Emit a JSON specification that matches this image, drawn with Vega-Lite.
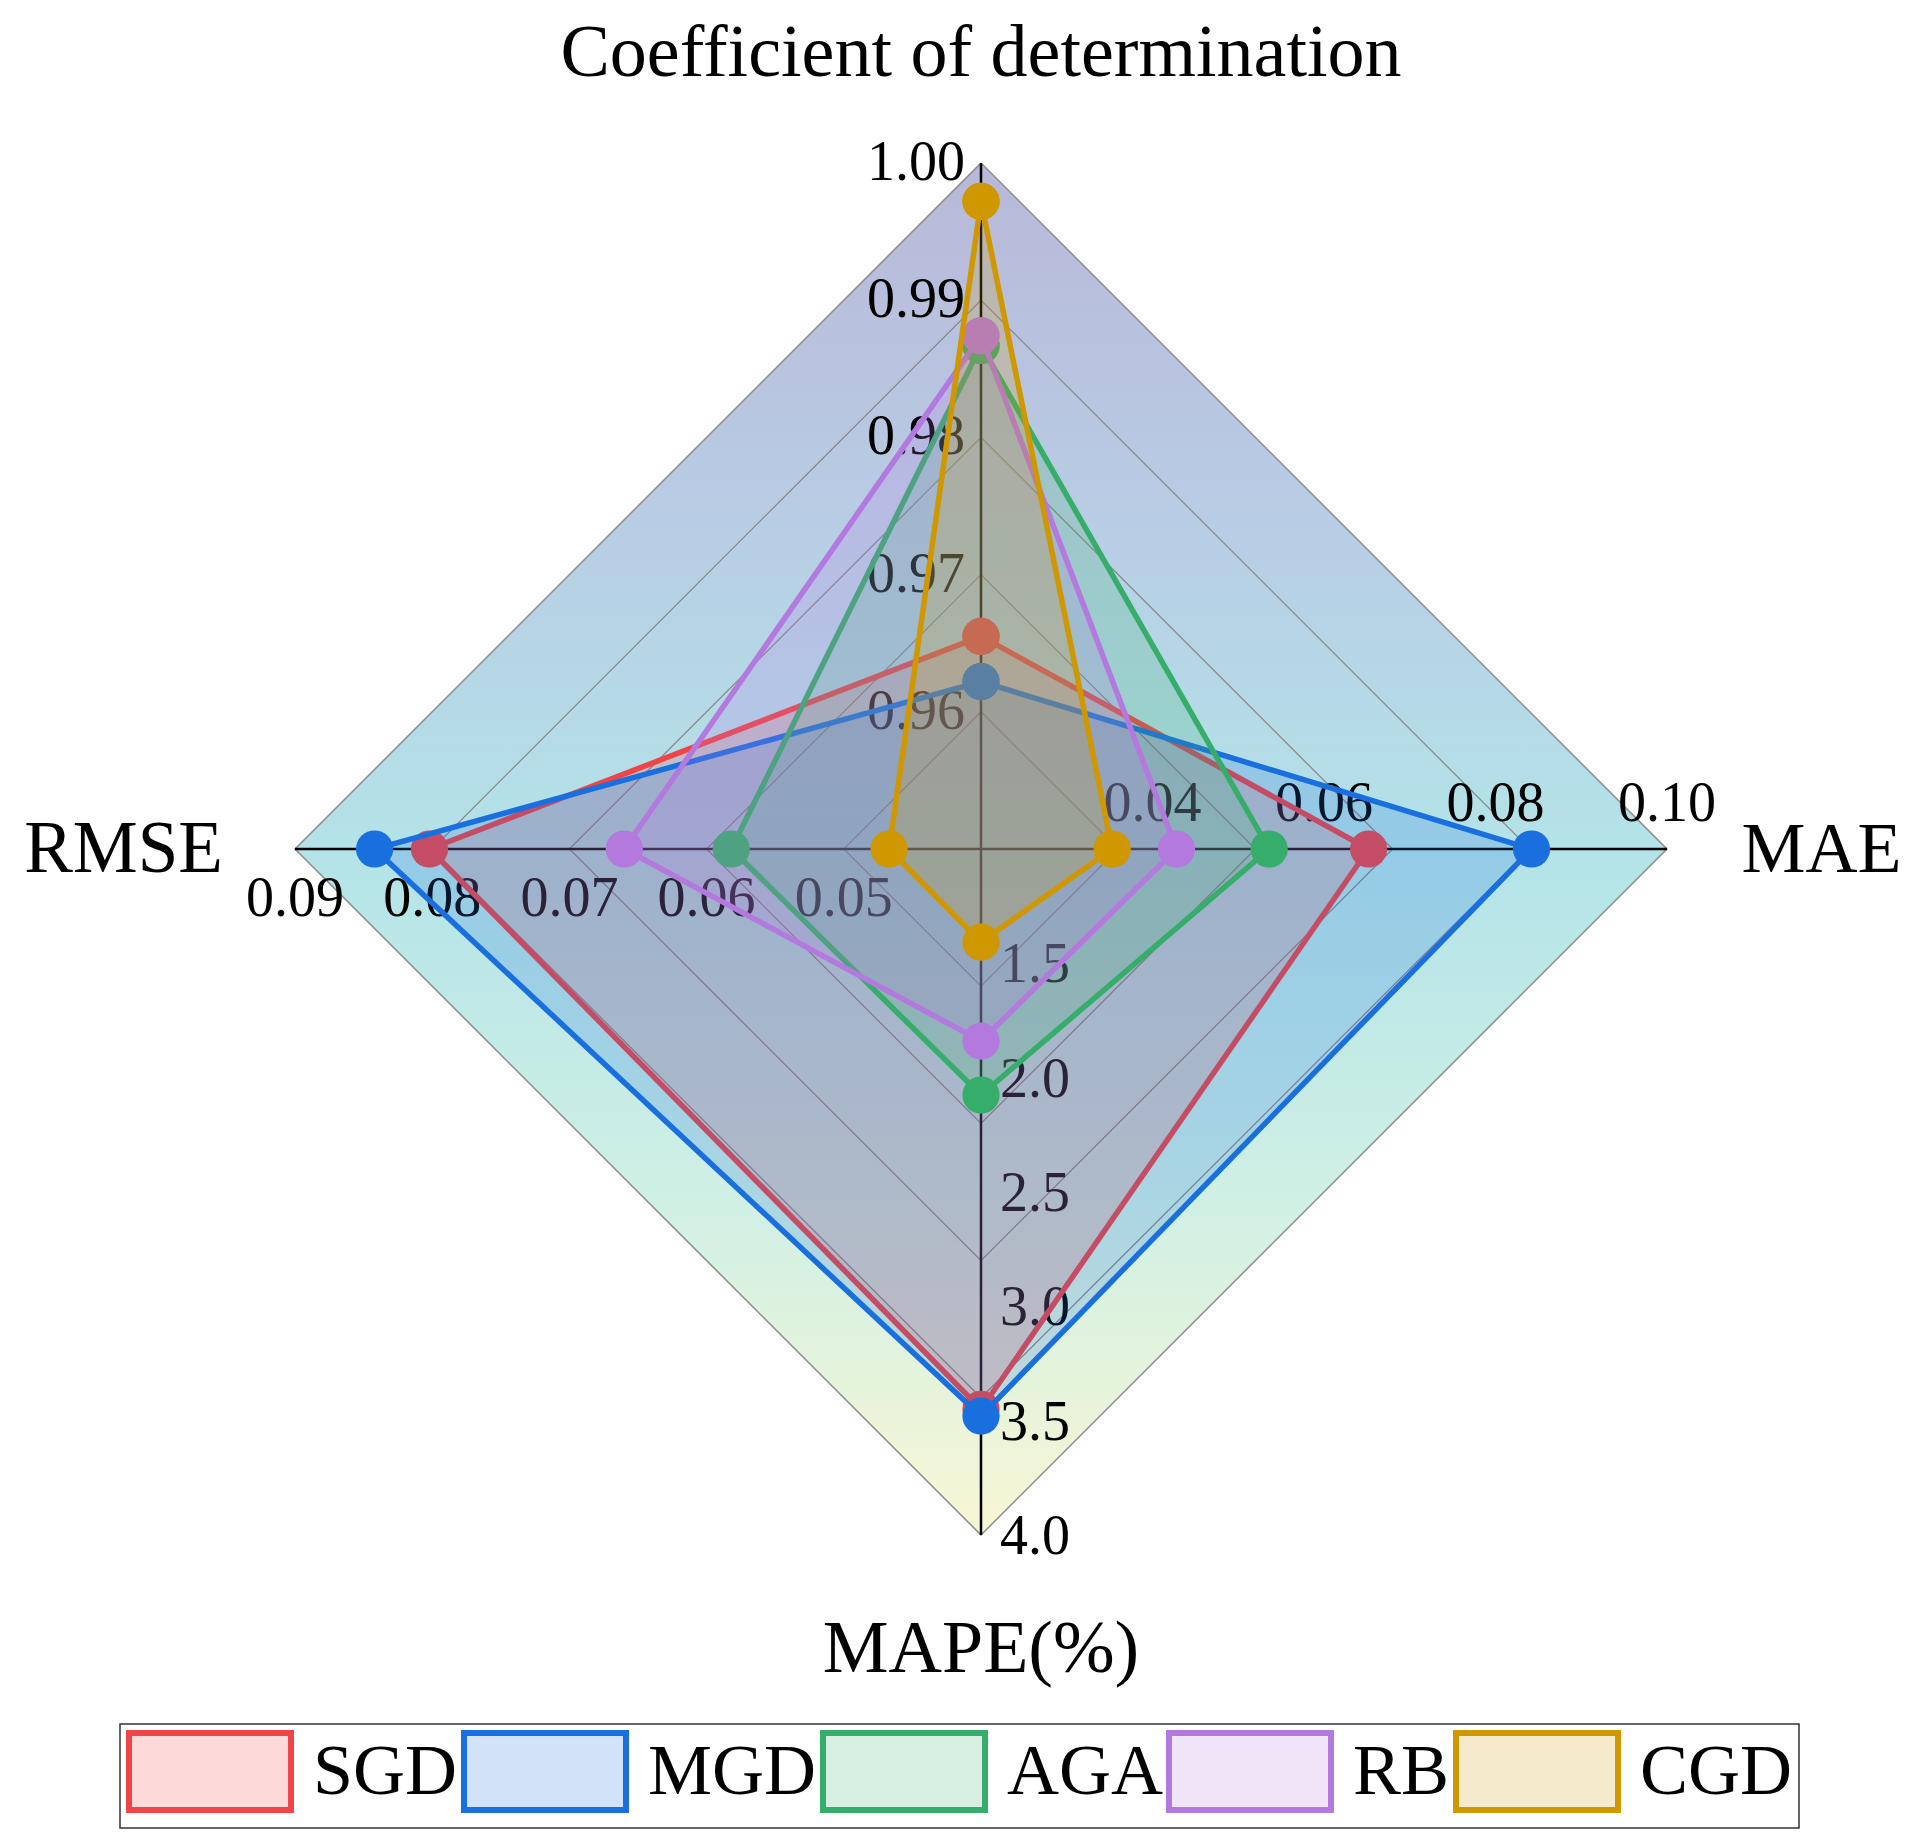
{
  "$schema": "https://vega.github.io/schema/vega-lite/v6.json",
  "width": 1919,
  "height": 1846,
  "autosize": "none",
  "padding": 0,
  "background": "white",
  "config": {
    "view": {"stroke": null},
    "text": {"font": "Liberation Serif", "color": "black"},
    "legend": {
      "orient": "none",
      "legendX": 120,
      "legendY": 1724,
      "direction": "horizontal",
      "title": null,
      "symbolType": "M-1,-1H3.208V1H-1Z",
      "symbolSize": 5929,
      "symbolStrokeWidth": 6,
      "symbolOpacity": 1,
      "labelFont": "Liberation Serif",
      "labelFontSize": 72,
      "labelColor": "black",
      "labelOffset": 104,
      "labelLimit": 0,
      "columnPadding": -6,
      "rowPadding": 0,
      "padding": 6,
      "strokeColor": "#333333",
      "strokeWidth": 1.5
    }
  },
  "datasets": {
    "models": [
      {"model": "SGD", "R2": 0.9655, "MAE": 0.0652, "MAPE": 3.45, "RMSE": 0.0802},
      {"model": "MGD", "R2": 0.9622, "MAE": 0.0842, "MAPE": 3.48, "RMSE": 0.0842},
      {"model": "AGA", "R2": 0.9867, "MAE": 0.0536, "MAPE": 2.076, "RMSE": 0.0582},
      {"model": "RB", "R2": 0.9874, "MAE": 0.0428, "MAPE": 1.84, "RMSE": 0.066},
      {"model": "CGD", "R2": 0.9972, "MAE": 0.0353, "MAPE": 1.407, "RMSE": 0.0467}
    ],
    "levels": [
      {"level": 0.2}, {"level": 0.4}, {"level": 0.6}, {"level": 0.8}, {"level": 1.0}
    ],
    "ticks": [
      {"metric": "R2", "value": 0.96, "label": "0.96"},
      {"metric": "R2", "value": 0.97, "label": "0.97"},
      {"metric": "R2", "value": 0.98, "label": "0.98"},
      {"metric": "R2", "value": 0.99, "label": "0.99"},
      {"metric": "R2", "value": 1.0, "label": "1.00"},
      {"metric": "MAE", "value": 0.04, "label": "0.04"},
      {"metric": "MAE", "value": 0.06, "label": "0.06"},
      {"metric": "MAE", "value": 0.08, "label": "0.08"},
      {"metric": "MAE", "value": 0.1, "label": "0.10"},
      {"metric": "MAPE", "value": 1.5, "label": "1.5"},
      {"metric": "MAPE", "value": 2.0, "label": "2.0"},
      {"metric": "MAPE", "value": 2.5, "label": "2.5"},
      {"metric": "MAPE", "value": 3.0, "label": "3.0"},
      {"metric": "MAPE", "value": 3.5, "label": "3.5"},
      {"metric": "MAPE", "value": 4.0, "label": "4.0"},
      {"metric": "RMSE", "value": 0.05, "label": "0.05"},
      {"metric": "RMSE", "value": 0.06, "label": "0.06"},
      {"metric": "RMSE", "value": 0.07, "label": "0.07"},
      {"metric": "RMSE", "value": 0.08, "label": "0.08"},
      {"metric": "RMSE", "value": 0.09, "label": "0.09"}
    ]
  },
  "layer": [
    {
      "data": {"name": "levels"},
      "transform": [
        {"calculate": "['R2','MAE','MAPE','RMSE','R2']", "as": "metric"},
        {"flatten": ["metric"]},
        {"calculate": "datum.metric=='MAE' ? datum.level : datum.metric=='RMSE' ? -datum.level : 0", "as": "px"},
        {"calculate": "datum.metric=='R2' ? datum.level : datum.metric=='MAPE' ? -datum.level : 0", "as": "py"}
      ],
      "encoding": {
        "x": {"field": "px", "type": "quantitative", "scale": {"domain": [-1.43003, 1.36735], "nice": false, "zero": false}, "axis": null},
        "y": {"field": "py", "type": "quantitative", "scale": {"domain": [-1.45335, 1.23761], "nice": false, "zero": false}, "axis": null},
        "order": {"value": null}
      },
      "layer": [
        {
          "transform": [{"filter": "datum.level == 1"}],
          "mark": {
            "type": "line",
            "stroke": "#8c8c8c",
            "strokeWidth": 1.5,
            "fill": {
              "gradient": "linear", "x1": 0, "y1": 0, "x2": 0, "y2": 1,
              "stops": [
                {"offset": 0, "color": "#b8b8d8"},
                {"offset": 0.25, "color": "#b8cce4"},
                {"offset": 0.5, "color": "#b3e3e8"},
                {"offset": 0.76, "color": "#d0f0e4"},
                {"offset": 1, "color": "#f8f6d4"}
              ]
            }
          }
        },
        {
          "transform": [{"filter": "datum.level < 1"}],
          "mark": {"type": "line", "stroke": "#8a8a8a", "strokeWidth": 1.3},
          "encoding": {"detail": {"field": "level", "type": "nominal"}}
        }
      ]
    },
    {
      "data": {"values": [{}]},
      "mark": {"type": "rule", "color": "black", "strokeWidth": 2.5},
      "encoding": {
        "x": {"datum": -1, "type": "quantitative"},
        "x2": {"datum": 1},
        "y": {"datum": 0, "type": "quantitative"}
      }
    },
    {
      "data": {"values": [{}]},
      "mark": {"type": "rule", "color": "black", "strokeWidth": 2.5},
      "encoding": {
        "y": {"datum": -1, "type": "quantitative"},
        "y2": {"datum": 1},
        "x": {"datum": 0, "type": "quantitative"}
      }
    },
    {
      "data": {"name": "ticks"},
      "transform": [
        {"calculate": "datum.metric=='R2' ? (datum.value-0.95)/0.05 : datum.metric=='MAE' ? (datum.value-0.02)/0.08 : datum.metric=='MAPE' ? (datum.value-1)/3 : (datum.value-0.04)/0.05", "as": "r"},
        {"calculate": "datum.metric=='MAE' ? datum.r : datum.metric=='RMSE' ? -datum.r : 0", "as": "px"},
        {"calculate": "datum.metric=='R2' ? datum.r : datum.metric=='MAPE' ? -datum.r : 0", "as": "py"}
      ],
      "encoding": {
        "x": {"field": "px", "type": "quantitative"},
        "y": {"field": "py", "type": "quantitative"},
        "text": {"field": "label"}
      },
      "layer": [
        {"transform": [{"filter": "datum.metric=='R2'"}], "mark": {"type": "text", "fontSize": 56, "align": "right", "baseline": "middle", "dx": -16, "dy": 0}},
        {"transform": [{"filter": "datum.metric=='MAE'"}], "mark": {"type": "text", "fontSize": 56, "align": "center", "baseline": "middle", "dy": -45}},
        {"transform": [{"filter": "datum.metric=='MAPE'"}], "mark": {"type": "text", "fontSize": 56, "align": "left", "baseline": "middle", "dx": 19, "dy": 2}},
        {"transform": [{"filter": "datum.metric=='RMSE'"}], "mark": {"type": "text", "fontSize": 56, "align": "center", "baseline": "middle", "dy": 50}}
      ]
    },
    {
      "data": {"name": "models"},
      "transform": [
        {"fold": ["R2", "MAE", "MAPE", "RMSE", "R2"], "as": ["metric", "value"]},
        {"calculate": "datum.metric=='R2' ? (datum.value-0.95)/0.05 : datum.metric=='MAE' ? (datum.value-0.02)/0.08 : datum.metric=='MAPE' ? (datum.value-1)/3 : (datum.value-0.04)/0.05", "as": "r"},
        {"calculate": "datum.metric=='MAE' ? datum.r : datum.metric=='RMSE' ? -datum.r : 0", "as": "px"},
        {"calculate": "datum.metric=='R2' ? datum.r : datum.metric=='MAPE' ? -datum.r : 0", "as": "py"}
      ],
      "encoding": {
        "x": {"field": "px", "type": "quantitative"},
        "y": {"field": "py", "type": "quantitative"}
      },
      "layer": [
        {"transform": [{"filter": "datum.model=='SGD'"}], "mark": {"type": "line", "stroke": "#ef4547", "fill": "#ef4547", "fillOpacity": 0.2, "strokeWidth": 5.5}, "encoding": {"order": {"value": null}}},
        {"transform": [{"filter": "datum.model=='SGD'"}], "mark": {"type": "point", "filled": true, "shape": "circle", "size": 1385, "opacity": 1, "color": "#ef4547"}},
        {"transform": [{"filter": "datum.model=='MGD'"}], "mark": {"type": "line", "stroke": "#1a6fdf", "fill": "#1a6fdf", "fillOpacity": 0.2, "strokeWidth": 5.5}, "encoding": {"order": {"value": null}}},
        {"transform": [{"filter": "datum.model=='MGD'"}], "mark": {"type": "point", "filled": true, "shape": "circle", "size": 1385, "opacity": 1, "color": "#1a6fdf"}},
        {"transform": [{"filter": "datum.model=='AGA'"}], "mark": {"type": "line", "stroke": "#36ad6a", "fill": "#36ad6a", "fillOpacity": 0.2, "strokeWidth": 5.5}, "encoding": {"order": {"value": null}}},
        {"transform": [{"filter": "datum.model=='AGA'"}], "mark": {"type": "point", "filled": true, "shape": "circle", "size": 1385, "opacity": 1, "color": "#36ad6a"}},
        {"transform": [{"filter": "datum.model=='RB'"}], "mark": {"type": "line", "stroke": "#b379df", "fill": "#b379df", "fillOpacity": 0.2, "strokeWidth": 5.5}, "encoding": {"order": {"value": null}}},
        {"transform": [{"filter": "datum.model=='RB'"}], "mark": {"type": "point", "filled": true, "shape": "circle", "size": 1385, "opacity": 1, "color": "#b379df"}},
        {"transform": [{"filter": "datum.model=='CGD'"}], "mark": {"type": "line", "stroke": "#cf9700", "fill": "#cf9700", "fillOpacity": 0.2, "strokeWidth": 5.5}, "encoding": {"order": {"value": null}}},
        {"transform": [{"filter": "datum.model=='CGD'"}], "mark": {"type": "point", "filled": true, "shape": "circle", "size": 1385, "opacity": 1, "color": "#cf9700"}},
        {"transform": [{"filter": "false"}], "mark": {"type": "point", "filled": true, "shape": "square", "opacity": 1, "strokeWidth": 6},
         "encoding": {
           "fill": {"field": "model", "type": "nominal", "scale": {"domain": ["SGD", "MGD", "AGA", "RB", "CGD"], "range": ["#fcdada", "#d1e2f9", "#d7efe1", "#f0e4f9", "#f5eacc"]}},
           "stroke": {"field": "model", "type": "nominal", "scale": {"domain": ["SGD", "MGD", "AGA", "RB", "CGD"], "range": ["#ef4547", "#1a6fdf", "#36ad6a", "#b379df", "#cf9700"]}}
         }}
      ]
    },
    {
      "data": {"values": [{}]},
      "mark": {"type": "text", "fontSize": 74, "align": "center", "baseline": "alphabetic", "text": "Coefficient of determination"},
      "encoding": {"x": {"datum": 0, "type": "quantitative"}, "y": {"datum": 1.1268, "type": "quantitative"}}
    },
    {
      "data": {"values": [{}]},
      "mark": {"type": "text", "fontSize": 74, "align": "center", "baseline": "alphabetic", "text": "MAPE(%)"},
      "encoding": {"x": {"datum": 0, "type": "quantitative"}, "y": {"datum": -1.1997, "type": "quantitative"}}
    },
    {
      "data": {"values": [{}]},
      "mark": {"type": "text", "fontSize": 73, "align": "right", "baseline": "alphabetic", "text": "RMSE"},
      "encoding": {"x": {"datum": -1.105, "type": "quantitative"}, "y": {"datum": -0.0335, "type": "quantitative"}}
    },
    {
      "data": {"values": [{}]},
      "mark": {"type": "text", "fontSize": 72, "align": "left", "baseline": "alphabetic", "text": "MAE"},
      "encoding": {"x": {"datum": 1.1086, "type": "quantitative"}, "y": {"datum": -0.0331, "type": "quantitative"}}
    }
  ]
}
